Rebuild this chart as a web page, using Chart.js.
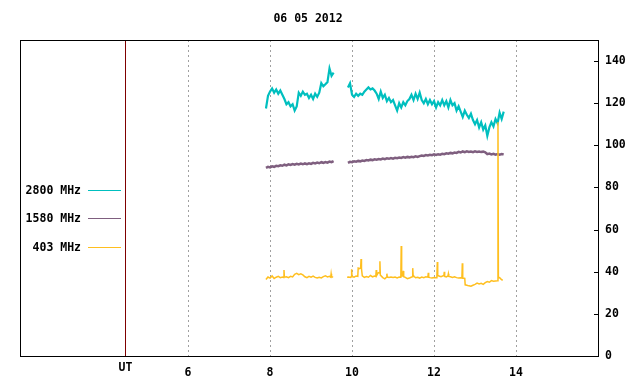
<!DOCTYPE html>
<html><head><meta charset="utf-8">
<style>html,body{margin:0;padding:0;background:#fff;}</style>
<script src="https://cdn.jsdelivr.net/npm/chart.js@4.4.1/dist/chart.umd.min.js"></script>
</head><body>
<canvas id="c" width="640" height="384"></canvas>
<script>
const titleText = '06 05 2012';
const seriesLabels = ['2800 MHz', '1580 MHz', '403 MHz'];
const xTicks = [6, 8, 10, 12, 14];
const yTicks = [0, 20, 40, 60, 80, 100, 120, 140];
const utLabel = 'UT';
const utHour = 4.46;

// time (UT hours) for 2800 and 1580 MHz
const times = [
 7.90,7.95,8.00,8.05,8.10,8.15,8.20,8.25,8.30,8.35,8.40,8.45,8.50,8.55,8.60,8.65,8.70,
 8.75,8.80,8.85,8.90,8.95,9.00,9.05,9.10,9.15,9.20,9.25,9.30,9.35,9.40,9.45,9.50,9.55,
 9.70,
 9.90,9.95,10.00,10.05,10.10,10.15,10.20,10.25,10.30,10.35,10.40,10.45,10.50,10.55,10.60,10.65,
 10.70,10.75,10.80,10.85,10.90,10.95,11.00,11.05,11.10,11.15,11.20,11.25,11.30,11.35,11.40,11.45,
 11.50,11.55,11.60,11.65,11.70,11.75,11.80,11.85,11.90,11.95,12.00,12.05,12.10,12.15,12.20,12.25,
 12.30,12.35,12.40,12.45,12.50,12.55,12.60,12.65,12.70,12.75,12.80,12.85,12.90,12.95,13.00,13.05,
 13.10,13.15,13.20,13.25,13.30,13.35,13.40,13.45,13.50,13.55,13.60,13.65,13.70
];

const flux2800 = [
 117.5,123.5,125.5,127,125,126.5,124.5,126,124,122,119.5,120.5,118.5,119.5,116.5,118.5,125,
 123.5,125.5,124,124.5,122.5,124,122,124.5,123,125,129.5,128,129,130,136.5,133,134.5,
 null,
 127.5,129.5,124,123,124.5,123.5,124.5,124,125.5,126.5,127.5,126.5,127,126,124.5,122,
 125.5,122.5,124,121,122.5,120.5,121.5,119,116.5,120,118,120.5,119,121,122,124,
 121.5,124.5,122,125,121.5,120,122,119.5,121.5,119.5,121,118,120.5,119,121.5,119,
 121,118,121.5,119,120,116.5,118.5,116,113.5,116.5,114.5,113,115,112,110,112,
 108.5,111,107.5,109.5,104.5,108.5,111,109,112.5,110.5,115.5,112.5,116
];

const flux1580 = [
 89.3,89.8,89.5,90.0,89.8,90.3,90.1,90.5,90.3,90.8,90.5,91.0,90.7,91.1,90.8,91.2,90.9,
 91.3,91.0,91.4,91.1,91.5,91.2,91.7,91.4,91.8,91.5,92.0,91.7,92.1,91.8,92.3,92.0,92.5,
 null,
 91.7,92.2,92.0,92.4,92.2,92.6,92.4,92.8,92.6,93.0,92.8,93.2,93.0,93.4,93.2,93.5,
 93.3,93.7,93.4,93.8,93.6,94.0,93.7,94.1,93.9,94.2,94.0,94.4,94.1,94.5,94.3,94.6,
 94.4,94.8,94.5,94.9,95.2,95.0,95.4,95.2,95.5,95.3,95.7,95.4,95.8,95.6,96.0,95.8,
 96.2,96.0,96.4,96.2,96.6,96.4,96.9,96.6,97.1,96.8,97.2,96.9,97.1,96.8,97.2,96.9,
 97.1,96.8,97.0,96.7,95.8,96.1,95.7,96.0,95.6,95.9,95.6,95.9,95.7
];

// time (UT hours) for 403 MHz
const times403 = [
 7.90,7.95,8.00,8.05,8.10,8.15,8.20,8.25,8.30,8.33,8.34,8.35,8.40,8.45,8.50,8.55,8.60,8.65,
 8.70,8.75,8.80,8.85,8.90,8.95,9.00,9.05,9.10,9.15,9.20,9.25,9.30,9.35,9.40,9.45,9.48,9.49,
 9.50,9.54,
 9.70,
 9.88,9.92,9.96,9.98,9.99,10.00,10.05,10.10,10.14,10.15,10.18,10.21,10.22,10.23,10.25,10.30,
 10.35,10.40,10.45,10.50,10.55,10.58,10.59,10.60,10.64,10.67,10.68,10.69,10.75,10.80,10.84,10.85,
 10.86,10.90,10.95,11.00,11.05,11.10,11.15,11.19,11.20,11.21,11.24,11.25,11.26,11.30,11.35,11.40,
 11.44,11.47,11.48,11.49,11.52,11.55,11.60,11.65,11.70,11.75,11.80,11.85,11.86,11.87,11.90,11.95,
 12.00,12.05,12.07,12.08,12.09,12.12,12.17,12.24,12.25,12.26,12.30,12.34,12.35,12.36,12.40,12.45,
 12.50,12.55,12.60,12.65,12.68,12.69,12.70,12.75,12.76,12.80,12.85,12.90,12.95,13.00,13.05,13.10,
 13.15,13.20,13.25,13.30,13.35,13.40,13.45,13.50,13.55,13.56,13.57,13.60,13.65,13.68
];

const flux403 = [
 36.3,37.5,37.0,38.0,36.8,37.4,37.8,37.2,37.5,37.3,40.8,37.4,37.6,37.2,37.8,37.5,38.8,39.2,
 38.6,39.0,38.5,37.6,37.2,37.8,37.4,37.9,37.3,37.0,37.4,37.1,37.7,38.1,37.5,37.8,37.4,39.0,
 37.6,37.5,
 null,
 37.4,37.5,37.3,37.6,41.2,37.8,37.4,38.0,37.8,41.7,41.5,41.8,46.0,41.5,38.0,37.3,
 37.7,37.4,38.2,37.6,38.0,37.8,40.8,38.2,39.6,39.4,45.0,38.4,37.2,36.6,37.4,39.1,
 37.5,37.3,37.5,37.3,37.5,37.1,37.5,37.4,52.2,38.0,38.0,40.4,37.6,37.3,36.7,37.0,
 37.4,37.6,41.7,38.4,37.6,37.2,37.4,37.0,37.5,37.2,37.6,37.4,39.5,37.4,37.2,37.0,
 37.3,37.1,37.6,44.6,38.2,38.0,37.6,38.2,40.0,37.8,37.5,38.0,39.0,37.8,37.6,37.3,
 37.6,37.2,37.0,37.1,37.0,44.0,37.0,36.8,33.8,33.6,33.3,33.1,33.6,34.0,34.6,34.2,
 34.5,34.0,34.8,35.3,35.0,35.8,35.5,35.6,35.7,111.0,37.0,37.2,36.2,36.0
];

const colors = ['#00bfbf', '#7f5f7f', '#ffbf1f'];
const FONT = 'bold 11.5px "DejaVu Sans Mono"';

function pts(ts, vals) { return ts.map((t, i) => ({x: t, y: vals[i]})); }

const decor = {
  id: 'decor',
  afterDraw(chart) {
    const {ctx, chartArea: a, scales} = chart;
    ctx.save();
    ctx.lineWidth = 1;
    const ux = Math.round(scales.x.getPixelForValue(utHour)) + 0.5;
    ctx.strokeStyle = '#7f0000';
    ctx.beginPath(); ctx.moveTo(ux, a.top); ctx.lineTo(ux, a.bottom); ctx.stroke();
    ctx.strokeStyle = '#000';
    ctx.strokeRect(a.left + 0.5, a.top + 0.5, a.right - a.left, a.bottom - a.top);
    yTicks.forEach(v => {
      const y = Math.round(scales.y.getPixelForValue(v)) + 0.5;
      ctx.beginPath(); ctx.moveTo(a.right - 4, y); ctx.lineTo(a.right, y); ctx.stroke();
    });
    ctx.fillStyle = '#000';
    ctx.font = FONT;
    ctx.textBaseline = 'middle';
    ctx.textAlign = 'center';
    ctx.fillText(titleText, 308, 19);
    ctx.fillText(utLabel, ux, 368);
    const ly = [190, 218, 247];
    seriesLabels.forEach((lab, i) => {
      ctx.textAlign = 'right';
      ctx.fillStyle = '#000';
      ctx.fillText(lab, 81, ly[i] + 1);
      ctx.strokeStyle = colors[i];
      ctx.beginPath(); ctx.moveTo(88, ly[i] + 0.5); ctx.lineTo(121, ly[i] + 0.5); ctx.stroke();
    });
    ctx.restore();
  }
};

new Chart(document.getElementById('c'), {
  type: 'line',
  data: {
    datasets: [
      {label: seriesLabels[0], data: pts(times, flux2800), borderColor: colors[0], borderWidth: 2.2, order: 3},
      {label: seriesLabels[1], data: pts(times, flux1580), borderColor: colors[1], borderWidth: 2.5, order: 2},
      {label: seriesLabels[2], data: pts(times403, flux403), borderColor: colors[2], borderWidth: 1.5, order: 1}
    ]
  },
  options: {
    responsive: false,
    animation: false,
    events: [],
    layout: {padding: {left: 20, top: 40, right: 0, bottom: 0}},
    elements: {point: {radius: 0}, line: {tension: 0}},
    plugins: {legend: {display: false}, title: {display: false}, tooltip: {enabled: false}},
    scales: {
      x: {
        type: 'linear', min: 1.9, max: 16,
        afterBuildTicks: s => { s.ticks = xTicks.map(v => ({value: v})); },
        afterFit: s => { s.height = 28; },
        grid: {color: '#a0a0a0', drawTicks: false, lineWidth: 1},
        border: {display: false, dash: [2, 3]},
        ticks: {color: '#000', font: {family: 'DejaVu Sans Mono', size: 11.5, weight: 'bold'}, padding: 10, maxRotation: 0}
      },
      y: {
        type: 'linear', position: 'right', min: 0, max: 150,
        afterBuildTicks: s => { s.ticks = yTicks.map(v => ({value: v})); },
        afterFit: s => { s.width = 42; },
        grid: {display: false, drawTicks: false},
        border: {display: false},
        ticks: {color: '#000', font: {family: 'DejaVu Sans Mono', size: 11.5, weight: 'bold'}, padding: 7}
      }
    }
  },
  plugins: [decor]
});
</script>
</body></html>
